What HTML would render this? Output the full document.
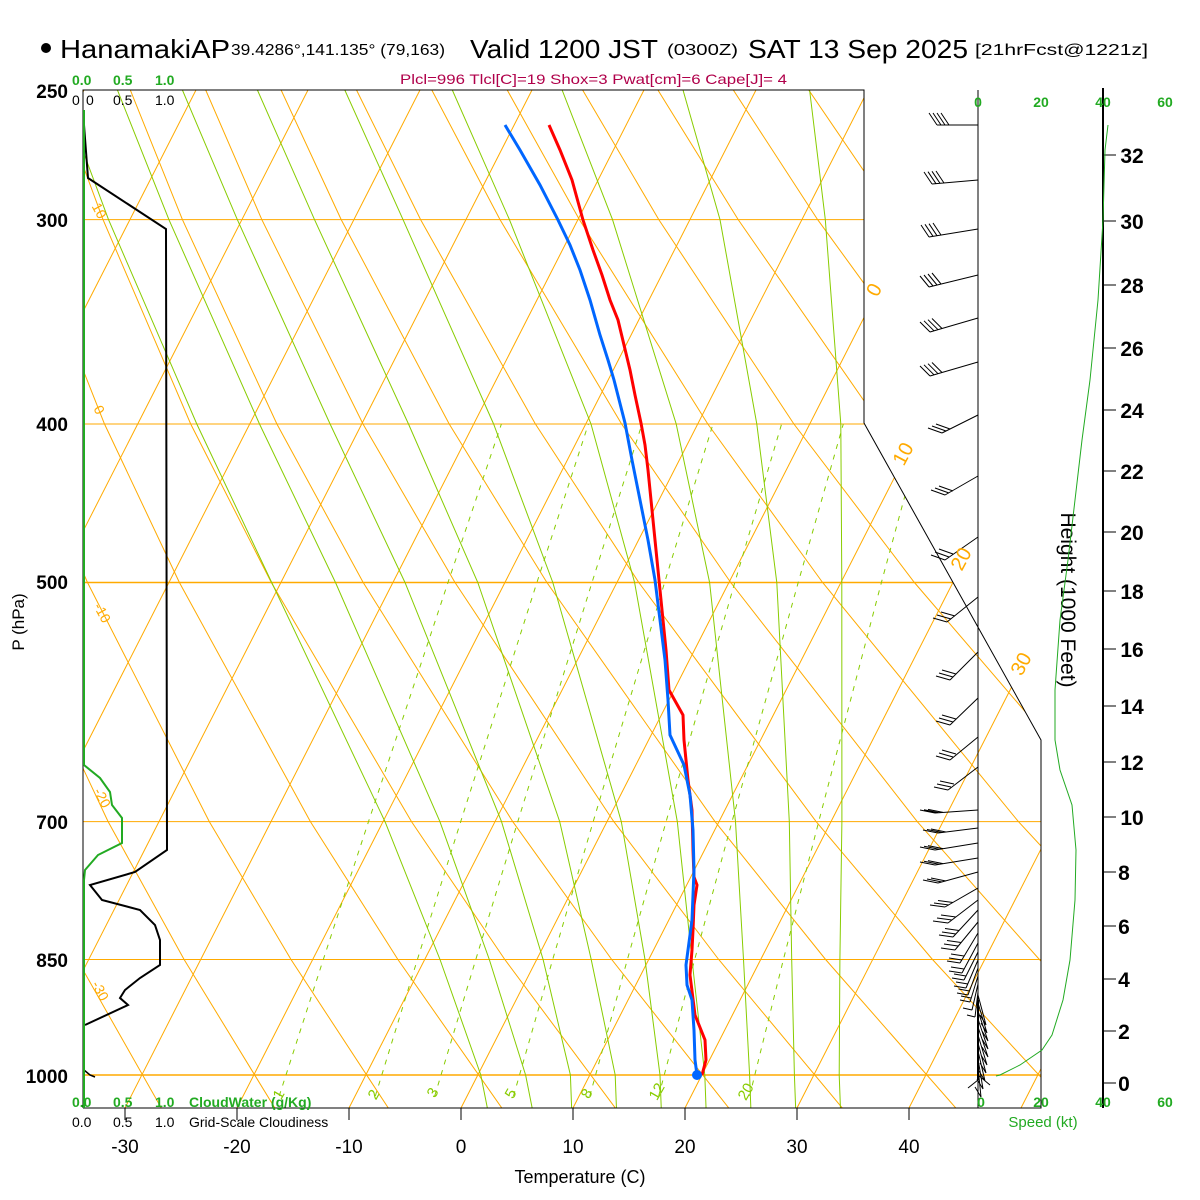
<!DOCTYPE html>
<html><head><meta charset="utf-8">
<style>
html,body{margin:0;padding:0;background:#fff;}
svg{display:block;font-family:"Liberation Sans",Arial,sans-serif;}
</style></head>
<body>
<svg width="1200" height="1200" viewBox="0 0 1200 1200" xmlns="http://www.w3.org/2000/svg">
<defs>
<clipPath id="pc"><polygon points="83,90 864,90 864,423 1041,740 1041,1108 83,1108"/></clipPath>
</defs>
<rect width="1200" height="1200" fill="#fff"/>
<g clip-path="url(#pc)" fill="none">
<g stroke="#ffaa00" stroke-width="1">
<line x1="83" y1="219.6" x2="1041" y2="219.6"/>
<line x1="83" y1="424" x2="1041" y2="424"/>
<line x1="83" y1="582.5" x2="1041" y2="582.5" stroke-width="1.5"/>
<line x1="83" y1="821.6" x2="1041" y2="821.6"/>
<line x1="83" y1="959.5" x2="1041" y2="959.5"/>
<line x1="83" y1="1075" x2="1041" y2="1075" stroke-width="1.5"/>
</g>
<g stroke="#ffaa00" stroke-width="1">
<line x1="-435" y1="1108" x2="84" y2="90"/>
<line x1="-323" y1="1108" x2="196" y2="90"/>
<line x1="-211" y1="1108" x2="308" y2="90"/>
<line x1="-99" y1="1108" x2="420" y2="90"/>
<line x1="13" y1="1108" x2="532" y2="90"/>
<line x1="125" y1="1108" x2="644" y2="90"/>
<line x1="237" y1="1108" x2="756" y2="90"/>
<line x1="349" y1="1108" x2="868" y2="90"/>
<line x1="461" y1="1108" x2="980" y2="90"/>
<line x1="573" y1="1108" x2="1092" y2="90"/>
<line x1="685" y1="1108" x2="1204" y2="90"/>
<line x1="797" y1="1108" x2="1316" y2="90"/>
<line x1="909" y1="1108" x2="1428" y2="90"/>
<line x1="1021" y1="1108" x2="1540" y2="90"/>
</g>
<g stroke="#ffaa00" stroke-width="1">
<polyline points="162.3,1109.7 77.1,959.5 7,821.6 -96.2,582.5"/>
<polyline points="275.9,1109.7 184.1,959.5 108.1,821.6 -4.4,582.5"/>
<polyline points="389.4,1109.7 291,959.5 209.3,821.6 87.5,582.5 18.3,424"/>
<polyline points="503,1109.7 397.9,959.5 310.4,821.6 179.4,582.5 104.5,424 23.6,219.6"/>
<polyline points="616.6,1109.7 504.8,959.5 411.5,821.6 271.3,582.5 190.7,424 103,219.6 55,90"/>
<polyline points="730.1,1109.7 611.7,959.5 512.7,821.6 363.2,582.5 276.9,424 182.4,219.6 130.3,90"/>
<polyline points="843.7,1109.7 718.7,959.5 613.8,821.6 455,582.5 363,424 261.8,219.6 205.7,90"/>
<polyline points="957.3,1109.7 825.6,959.5 715,821.6 546.9,582.5 449.2,424 341.2,219.6 281.1,90"/>
<polyline points="1070.9,1109.7 932.5,959.5 816.1,821.6 638.8,582.5 535.4,424 420.6,219.6 356.5,90"/>
<polyline points="1184.4,1109.7 1039.4,959.5 917.2,821.6 730.7,582.5 621.6,424 500,219.6 431.8,90"/>
<polyline points="1298,1109.7 1146.3,959.5 1018.4,821.6 822.6,582.5 707.8,424 579.4,219.6 507.2,90"/>
<polyline points="1411.6,1109.7 1253.3,959.5 1119.5,821.6 914.4,582.5 793.9,424 658.8,219.6 582.6,90"/>
<polyline points="1525,1109.7 1360.2,959.5 1220.7,821.6 1006.3,582.5 880.1,424 738.2,219.6 657.9,90"/>
<polyline points="1638.6,1109.7 1467.1,959.5 1321.8,821.6 1098.2,582.5 966.3,424 817.6,219.6 733.3,90"/>
<polyline points="1752.2,1109.7 1574,959.5 1423,821.6 1190.1,582.5 1052.5,424 897,219.6 808.7,90"/>
</g>
<g stroke="#88cc00" stroke-width="1">
<polyline points="487.7,1109.7 480.8,1075 440,959.5 385,821.6 271.7,582.5 196.8,424 108.5,219.6 60.3,90"/>
<polyline points="532.5,1109.7 525.6,1075 489.3,959.5 439.9,821.6 335.5,582.5 259.5,424 168.9,219.6 117.4,90"/>
<polyline points="571.7,1109.7 570.4,1075 543.1,959.5 501.5,821.6 405,582.5 330.1,424 237.3,219.6 182.4,90"/>
<polyline points="616.5,1109.7 615.2,1075 591.2,959.5 559.7,821.6 477.8,582.5 408.5,424 314.5,219.6 257.4,90"/>
<polyline points="661.3,1109.7 660,1075 645,959.5 621.3,821.6 552.8,582.5 493.6,424 403,219.6 344.8,90"/>
<polyline points="706.1,1109.7 704.8,1075 692,959.5 677.3,821.6 634.6,582.5 591,424 509.4,219.6 452.3,90"/>
<polyline points="750.9,1109.7 749.6,1075 743.5,959.5 735.5,821.6 709.6,582.5 676.2,424 612.5,219.6 562.1,90"/>
<polyline points="795.7,1109.7 794.4,1075 791.7,959.5 789.3,821.6 776.8,582.5 756.8,424 720,219.6 683,90"/>
<polyline points="840.5,1109.7 839.2,1075 839.9,959.5 841.9,821.6 841.8,582.5 840.8,424 825.3,219.6 809.6,90"/>
</g>
<g stroke="#88cc00" stroke-width="1" stroke-dasharray="5,6">
<polyline points="279.2,1096 323.3,959.5 368.5,821.6 448,582.5 501.4,424"/>
<polyline points="375.3,1096 417.4,959.5 460.7,821.6 536.9,582.5 588.4,424"/>
<polyline points="434.7,1096 475.8,959.5 517.8,821.6 592,582.5 642,424"/>
<polyline points="513.5,1096 552.7,959.5 593.2,821.6 664.6,582.5 713,424"/>
<polyline points="589.8,1096 627.4,959.5 666.1,821.6 734.8,582.5 781.6,424"/>
<polyline points="658.7,1096 694.7,959.5 732,821.6 798.2,582.5 843.3,424"/>
<polyline points="749.6,1096 783.4,959.5 818.7,821.6 881.4,582.5 924.4,424"/>
</g>
</g>

<g stroke="#000" fill="none" stroke-width="1">
<polyline points="83,1108 83,90 864,90 864,423 1041,740 1041,1108 83,1108"/>
<line x1="978" y1="90" x2="978" y2="1108"/>
<line x1="1103" y1="88" x2="1103" y2="1108" stroke-width="2"/>
<path d="M125,1108v12M237,1108v12M349,1108v12M461,1108v12M573,1108v12M685,1108v12M797,1108v12M909,1108v12"/>
<path d="M1103,155h13M1103,221h13M1103,285h13M1103,348h13M1103,410h13M1103,471h13M1103,532h13M1103,591h13M1103,649h13M1103,706h13M1103,762h13M1103,817h13M1103,872h13M1103,926h13M1103,979h13M1103,1031h13M1103,1083h13"/>
</g>

<g stroke="#000" fill="none" stroke-width="1">
<path d="M978,125L937,125M937,125l-8,-12M941,125l-8,-12M945,125l-8,-12M949,125l-8,-12"/>
<path d="M978,180L932,184M932,184l-8,-12M936,183.7l-8,-12M940,183.3l-8,-12M944,183l-8,-12"/>
<path d="M978,229L929,237M929,237l-8,-12M933,236.3l-8,-12M937,235.7l-8,-12M941,235l-8,-12"/>
<path d="M978,275L929,287M929,287l-9,-11M933,286l-9,-11M937,285l-9,-11M941,284l-9,-11"/>
<path d="M978,318L930,332M930,332l-10,-10M934,330.8l-10,-10M938,329.7l-10,-10M942,328.5l-10,-10"/>
<path d="M978,362L930,376M930,376l-10,-10M934,374.8l-10,-10M938,373.7l-10,-10M942,372.5l-10,-10"/>
<path d="M978,415L942,433M942,433l-14,-5M946,431l-14,-5M950,429l-14,-5"/>
<path d="M978,476L945,495M945,495l-14,-5M949,493l-14,-5M953,491l-14,-5"/>
<path d="M978,537L945,560M945,560l-14,-5M949,557l-14,-5M953,554l-14,-5"/>
<path d="M978,597L947,622M947,622l-14,-4M951,619l-14,-4M955,616l-14,-4"/>
<path d="M978,652L950,680M950,680l-14,-4M953,677l-14,-4M956,674l-14,-4"/>
<path d="M978,698L950,725M950,725l-14,-4M953,722l-14,-4M956,719l-14,-4"/>
<path d="M978,737L950,760M950,760l-14,-4M953,757l-14,-4M956,754l-14,-4"/>
<path d="M978,767L948,790M948,790l-14,-3M951,787l-14,-3M954,784l-14,-3"/>
<path d="M978,810L935,813M935,813l-15,-3M939,812.7l-15,-3M943,812.4l-15,-3"/>
<path d="M978,828L938,833M938,833l-15,-3M942,832.5l-15,-3M946,832l-15,-3"/>
<path d="M978,843L935,850M935,850l-15,-3M939,849.3l-15,-3M943,848.6l-15,-3"/>
<path d="M978,858L935,865M935,865l-15,-3M939,864.3l-15,-3M943,863.6l-15,-3"/>
<path d="M978,872L938,883M938,883l-15,-3M942,882l-15,-3M946,881l-15,-3"/>
<path d="M978,888L945,907M945,907l-15,-2M949,905l-15,-2M953,902.5l-15,-2"/>
<path d="M978,900L948,923M948,923l-15,-2M952,920l-15,-2M956,917l-15,-2"/>
<path d="M978,910L953,937M953,937l-14,-2M956,934l-14,-2M959,930.5l-14,-2"/>
<path d="M978,922L955,950M955,950l-14,-2M958,946l-14,-2M961,942.5l-14,-2"/>
<path d="M978,933L960,963M960,963l-13,-2M962,960l-13,-2M964,956l-13,-2"/>
<path d="M978,943L962,973M962,973l-13,-2M964,969l-13,-2"/>
<path d="M978,952L964,980M964,980l-12,-2M966,976l-12,-2"/>
<path d="M978,960L966,988M966,988l-12,-2M968,984l-12,-2"/>
<path d="M978,968L968,995M968,995l-11,-2M969.5,991l-11,-2"/>
<path d="M978,976L970,1002M970,1002l-10,-2M971,998l-10,-2"/>
<path d="M978,984L972,1010M972,1010l-9,-2"/>
<path d="M978,992L975,1017M975,1017l-8,-2"/>
<path d="M978,995L986,1025l-6,-10M978,1003L987,1033l-6,-10M978,1011L988,1041l-6,-10M978,1019L988,1049l-6,-10M978,1027L988,1057l-6,-10M978,1035L987,1065l-6,-10M978,1043L986,1073l-6,-10M978,1051L985,1081l-6,-10M978,1059L983,1089l-6,-10M978,1067L981,1097l-6,-10M978,1075L990,1085M978,1080L968,1088"/>
<path d="M978,1000v80" stroke-width="2"/>
</g>

<circle cx="46" cy="48" r="5" fill="#000"/>
<text x="60" y="58" font-size="26" textLength="170" lengthAdjust="spacingAndGlyphs">HanamakiAP</text>
<text x="231" y="55" font-size="16" textLength="214" lengthAdjust="spacingAndGlyphs">39.4286°,141.135° (79,163)</text>
<text x="470" y="58" font-size="26" textLength="188" lengthAdjust="spacingAndGlyphs">Valid 1200 JST</text>
<text x="667" y="55" font-size="16" textLength="71" lengthAdjust="spacingAndGlyphs">(0300Z)</text>
<text x="748" y="58" font-size="26" textLength="220" lengthAdjust="spacingAndGlyphs">SAT 13 Sep 2025</text>
<text x="975" y="55" font-size="16" textLength="173" lengthAdjust="spacingAndGlyphs">[21hrFcst@1221z]</text>
<text x="400" y="84" font-size="14" fill="#b0004a" textLength="387" lengthAdjust="spacingAndGlyphs">Plcl=996 Tlcl[C]=19 Shox=3 Pwat[cm]=6 Cape[J]= 4</text>

<g font-size="14" font-weight="bold" fill="#22aa22">
<text x="72" y="85">0.0</text><text x="113" y="85">0.5</text><text x="155" y="85">1.0</text>
</g>
<g font-size="14" fill="#000">
<text x="72" y="105">0</text><text x="86" y="105">0</text><text x="113" y="105">0.5</text><text x="155" y="105">1.0</text>
</g>
<g font-size="14" font-weight="bold" fill="#22aa22">
<text x="72" y="1107">0.0</text><text x="113" y="1107">0.5</text><text x="155" y="1107">1.0</text><text x="189" y="1107">CloudWater (g/Kg)</text>
</g>
<g font-size="14" fill="#000">
<text x="72" y="1127">0.0</text><text x="113" y="1127">0.5</text><text x="155" y="1127">1.0</text><text x="189" y="1127">Grid-Scale Cloudiness</text>
</g>

<g font-size="19" font-weight="bold" text-anchor="end" fill="#000">
<text x="68" y="98">250</text>
<text x="68" y="227">300</text>
<text x="68" y="431">400</text>
<text x="68" y="589">500</text>
<text x="68" y="829">700</text>
<text x="68" y="967">850</text>
<text x="68" y="1083">1000</text>
</g>
<text transform="translate(24,622) rotate(-90)" font-size="17" text-anchor="middle">P (hPa)</text>

<g font-size="19" text-anchor="middle">
<text x="125" y="1153">-30</text><text x="237" y="1153">-20</text><text x="349" y="1153">-10</text>
<text x="461" y="1153">0</text><text x="573" y="1153">10</text><text x="685" y="1153">20</text>
<text x="797" y="1153">30</text><text x="909" y="1153">40</text>
</g>
<text x="580" y="1183" font-size="18" text-anchor="middle">Temperature (C)</text>

<g font-size="14" font-weight="bold" fill="#22aa22" text-anchor="middle">
<text x="978" y="107">0</text><text x="1041" y="107">20</text><text x="1103" y="107">40</text><text x="1165" y="107">60</text>
<text x="981" y="1107">0</text><text x="1041" y="1107">20</text><text x="1103" y="1107">40</text><text x="1165" y="1107">60</text>
</g>
<text x="1043" y="1127" font-size="15" fill="#22aa22" text-anchor="middle">Speed (kt)</text>

<g font-size="21" font-weight="bold" text-anchor="middle">
<text x="1132" y="163">32</text><text x="1132" y="229">30</text><text x="1132" y="293">28</text>
<text x="1132" y="356">26</text><text x="1132" y="418">24</text><text x="1132" y="479">22</text>
<text x="1132" y="540">20</text><text x="1132" y="599">18</text><text x="1132" y="657">16</text>
<text x="1132" y="714">14</text><text x="1132" y="770">12</text><text x="1132" y="825">10</text>
<text x="1124" y="880">8</text><text x="1124" y="934">6</text><text x="1124" y="987">4</text>
<text x="1124" y="1039">2</text><text x="1124" y="1091">0</text>
</g>
<text transform="translate(1061,600) rotate(90)" font-size="21" text-anchor="middle">Height (1000 Feet)</text>

<g font-size="20" fill="#ffaa00" text-anchor="middle">
<text transform="translate(880,293) rotate(-62)">0</text>
<text transform="translate(909,457) rotate(-62)">10</text>
<text transform="translate(967,562) rotate(-62)">20</text>
<text transform="translate(1027,667) rotate(-62)">30</text>
</g>
<g font-size="14" fill="#ffaa00" text-anchor="middle">
<text transform="translate(95,213) rotate(62)">10</text>
<text transform="translate(95,412) rotate(62)">0</text>
<text transform="translate(98,615) rotate(62)">-10</text>
<text transform="translate(98,800) rotate(62)">-20</text>
<text transform="translate(96,993) rotate(62)">-30</text>
</g>
<g font-size="15" fill="#88cc00" text-anchor="middle">
<text transform="translate(283,1097) rotate(-60)">1</text>
<text transform="translate(378,1097) rotate(-60)">2</text>
<text transform="translate(437,1095) rotate(-60)">3</text>
<text transform="translate(515,1096) rotate(-60)">5</text>
<text transform="translate(591,1096) rotate(-60)">8</text>
<text transform="translate(661,1094) rotate(-60)">12</text>
<text transform="translate(750,1094) rotate(-60)">20</text>
</g>

<polyline fill="none" stroke="#000" stroke-width="2" points="84,125 88,178 166,229 167,850 135,872 90,885 102,900 140,910 155,925 160,940 160,965 140,978 125,990 120,998 128,1005 85,1025"/>
<polyline fill="none" stroke="#000" stroke-width="1.5" points="84,1070 90,1075 95,1077"/>
<polyline fill="none" stroke="#22aa22" stroke-width="2" points="84,110 84,765 100,778 110,792 112,805 122,818 122,843 98,855 85,870 84,880 84,1108"/>
<polyline fill="none" stroke="#22aa22" stroke-width="1" points="1108,125 1105,150 1103,220 1098,300 1090,380 1082,440 1075,500 1068,560 1060,620 1055,690 1055,740 1060,770 1072,805 1076,850 1075,900 1070,960 1063,1000 1052,1035 1042,1050 1020,1065 1000,1075 996,1076"/>

<polyline fill="none" stroke="#ff0000" stroke-width="3" points="549,125 560,150 572,180 583,220 593,250 602,275 610,300 618,320 624,345 630,370 635,395 641,423 645,445 648,470 651,500 654,530 657,560 660,590 663,620 666,650 669,690 683,715 684,740 688,780 692,810 693,850 694,877 697,885 694,905 693,930 692,950 690,975 695,1015 705,1040 706,1060 702,1075"/>
<polyline fill="none" stroke="#0066ff" stroke-width="3" points="505,125 520,150 540,185 558,220 570,245 580,270 590,300 600,335 608,360 614,380 625,423 632,460 640,500 648,540 655,580 660,620 665,660 668,700 670,735 684,765 690,795 693,830 694,870 692,920 688,950 686,965 687,985 692,1000 694,1030 695,1060 697,1075"/>
<circle cx="697" cy="1075" r="5" fill="#0066ff"/>
</svg>
</body></html>
